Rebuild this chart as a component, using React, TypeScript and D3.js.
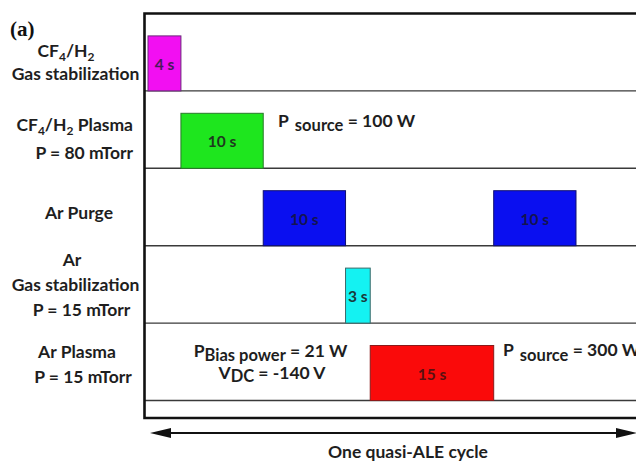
import React from "react";
import * as d3 from "d3";

const rowNames = ["CF4/H2 gas stabilization", "CF4/H2 plasma", "Ar purge", "Ar gas stabilization", "Ar plasma"];
const phaseLabels = ["4 s", "10 s", "10 s", "3 s", "15 s", "10 s"];
const phaseRow = [0, 1, 2, 3, 4, 2];
const phaseDuration = [4, 10, 10, 3, 15, 10];
const phaseFill = ["#f20ff2", "#1ee61e", "#0a0ff0", "#14f2f2", "#fa0a0a", "#0a0ff0"];
const phaseStroke = ["#6a2a7a", "#2a7a2a", "#101070", "#3a6a6a", "#8a1a1a", "#101070"];
const phaseText = ["#4a1a5a", "#1e3a1e", "#141450", "#1a3a3a", "#5a1010", "#141450"];
const cycleLabel = "One quasi-ALE cycle";

const W = 636;
const H = 461;
const FONT = "Lato, 'Open Sans', sans-serif";

export default function App() {
  const starts: number[] = [];
  phaseDuration.reduce((acc, d) => {
    starts.push(acc);
    return acc + d;
  }, 0);
  const total = d3.sum(phaseDuration);
  const x = d3.scaleLinear().domain([0, total]).range([148, 576]);
  const y = d3.scaleLinear().domain([0, rowNames.length]).range([13.5, 400.5]);
  const barH = 55;
  const lab = { fontFamily: FONT, fontWeight: 700, fontSize: 17.5, fill: "#1e1e1e" } as const;
  const sub = { fontSize: 12 };

  return (
    <svg width={W} height={H} style={{ position: "absolute", left: 0, top: 0, background: "#fff" }}>
      <rect width={W} height={H} fill="#fff" />
      {/* row separators */}
      {d3.range(1, rowNames.length + 1).map((i) => (
        <line key={i} x1={145} x2={W + 5} y1={y(i)} y2={y(i)} stroke="#3a3a3a" strokeWidth={1.4} />
      ))}
      {/* bars */}
      {phaseDuration.map((d, i) => {
        const x0 = x(starts[i]);
        const x1 = x(starts[i] + d);
        const yb = y(phaseRow[i] + 1);
        return (
          <g key={i}>
            <rect x={x0} y={yb - barH} width={x1 - x0} height={barH} fill={phaseFill[i]} stroke={phaseStroke[i]} strokeWidth={1} />
            <text x={(x0 + x1) / 2} y={yb - barH / 2 + 6.5} textAnchor="middle" fontFamily={FONT} fontWeight={700} fontSize={15.5} fill={phaseText[i]}>
              {phaseLabels[i]}
            </text>
          </g>
        );
      })}
      {/* frame */}
      <path d={`M${W + 5},${y(0)} H144.5 V418 H${W + 5}`} fill="none" stroke="#111" strokeWidth={2.6} />
      {/* arrow */}
      <line x1={165} x2={622} y1={433} y2={433} stroke="#111" strokeWidth={2} />
      <polygon points={`150,433 171,428 171,438`} fill="#111" />
      <polygon points={`637,433 616,428 616,438`} fill="#111" />
      <text x={408} y={457.5} textAnchor="middle" {...lab}>{cycleLabel}</text>

      {/* (a) */}
      <text x={10} y={36} fontFamily="'Liberation Serif', 'DejaVu Serif', serif" fontWeight={700} fontSize={21} fill="#111">(a)</text>

      {/* row labels */}
      <text x={66} y={57} textAnchor="middle" {...lab}>
        CF<tspan dy={4} {...sub}>4</tspan><tspan dy={-4}>/H</tspan><tspan dy={4} {...sub}>2</tspan>
      </text>
      <text x={75.5} y={80} textAnchor="middle" {...lab}>Gas stabilization</text>

      <text x={133} y={131} textAnchor="end" {...lab}>
        CF<tspan dy={4} {...sub}>4</tspan><tspan dy={-4}>/H</tspan><tspan dy={4} {...sub}>2</tspan><tspan dy={-4}> Plasma</tspan>
      </text>
      <text x={133} y={159} textAnchor="end" {...lab}>P = 80 mTorr</text>

      <text x={79} y={218.5} textAnchor="middle" {...lab}>Ar Purge</text>

      <text x={72} y={266} textAnchor="middle" {...lab}>Ar</text>
      <text x={75.5} y={290.5} textAnchor="middle" {...lab}>Gas stabilization</text>
      <text x={81.5} y={315.5} textAnchor="middle" {...lab}>P = 15 mTorr</text>

      <text x={77} y={358} textAnchor="middle" {...lab}>Ar Plasma</text>
      <text x={83} y={383} textAnchor="middle" {...lab}>P = 15 mTorr</text>

      {/* annotations */}
      <text x={278} y={127} {...lab}>
        P<tspan dx={6} dy={4} fontSize={16.5}>source</tspan><tspan dy={-4}> = 100 W</tspan>
      </text>
      <text x={270.5} y={356.5} textAnchor="middle" {...lab}>
        P<tspan dy={4} fontSize={16.5}>Bias power</tspan><tspan dy={-4}> = 21 W</tspan>
      </text>
      <text x={272} y={378.5} textAnchor="middle" {...lab}>
        V<tspan dy={3} fontSize={16.5}>DC</tspan><tspan dy={-3}> = -140 V</tspan>
      </text>
      <text x={503} y={356} {...lab}>
        P<tspan dx={6} dy={5} fontSize={16.5}>source</tspan><tspan dy={-5}> = 300 W</tspan>
      </text>
    </svg>
  );
}
